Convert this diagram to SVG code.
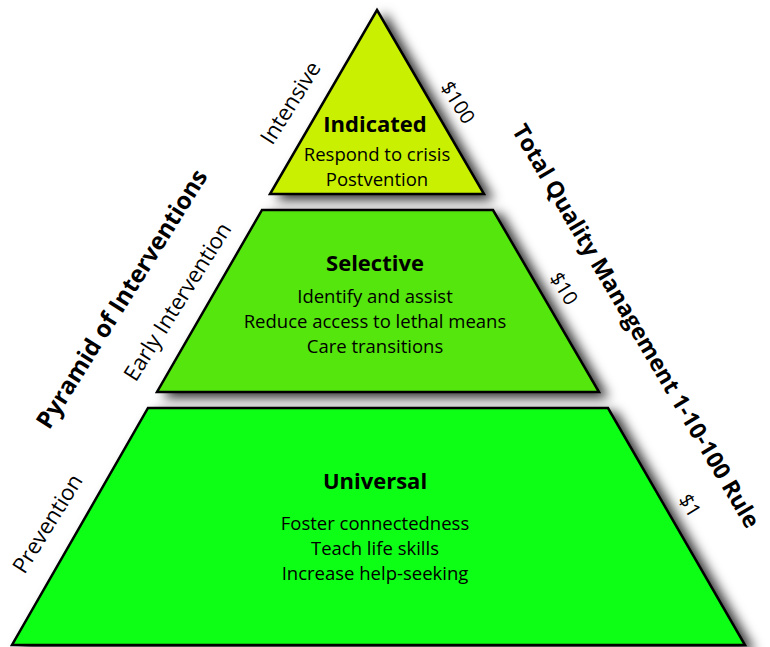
<svg xmlns="http://www.w3.org/2000/svg" width="770" height="647" viewBox="0 0 770 647">
<defs>
<filter id="shadow" x="-20%" y="-20%" width="140%" height="140%">
<feDropShadow dx="8" dy="5" stdDeviation="6" flood-color="#000" flood-opacity="0.8"/>
</filter>
<style>
.tier{stroke:#000;stroke-width:2.5;stroke-linejoin:miter}
.title{font-family:"Open Sans","Liberation Sans",sans-serif;font-weight:bold;font-size:22px;fill:#000;text-anchor:middle}
.body{font-family:"Open Sans","Liberation Sans",sans-serif;font-size:18.5px;fill:#000;text-anchor:middle}
.side{font-family:"Open Sans","Liberation Sans",sans-serif;font-size:22px;fill:#000;text-anchor:middle}
.cost{font-family:"Open Sans","Liberation Sans",sans-serif;font-size:20px;fill:#000;text-anchor:middle}
.sideb{font-family:"Open Sans","Liberation Sans",sans-serif;font-weight:bold;font-size:24px;fill:#000;text-anchor:middle}
.sideb2{font-family:"Open Sans","Liberation Sans",sans-serif;font-weight:bold;font-size:23px;fill:#000;text-anchor:middle}
</style>
</defs>
<rect width="770" height="647" fill="#fff"/>
<g id="universal">
<polygon class="tier" points="148,408 608,408 745,645 12,645" fill="#0aff14" filter="url(#shadow)"/>
<text class="title" x="375" y="489">Universal</text>
<text class="body" x="375" y="530">Foster connectedness</text>
<text class="body" x="375" y="555">Teach life skills</text>
<text class="body" x="375" y="580">Increase help-seeking</text>
</g>
<g id="selective">
<polygon class="tier" points="262,210 493,210 599,392 157,392" fill="#55e60c" filter="url(#shadow)"/>
<text class="title" x="375" y="271">Selective</text>
<text class="body" x="375" y="303">Identify and assist</text>
<text class="body" x="375" y="328">Reduce access to lethal means</text>
<text class="body" x="375" y="353">Care transitions</text>
</g>
<g id="indicated">
<polygon class="tier" points="377,10 484,194 270,194" fill="#c8f000" filter="url(#shadow)"/>
<text class="title" x="375" y="132">Indicated</text>
<text class="body" x="377" y="161">Respond to crisis</text>
<text class="body" x="377" y="186">Postvention</text>
</g>
<g id="left-labels">
<text class="side" transform="translate(291,103) rotate(-58)" y="7">Intensive</text>
<text class="side" transform="translate(178,302) rotate(-58)" y="7">Early Intervention</text>
<text class="side" transform="translate(48,524) rotate(-58)" y="7">Prevention</text>
<text class="sideb" transform="translate(122,299) rotate(-58)" y="8">Pyramid of Interventions</text>
</g>
<g id="right-labels">
<text class="cost" transform="translate(457,103) rotate(58)" y="6">$100</text>
<text class="cost" transform="translate(563,289) rotate(58)" y="6">$10</text>
<text class="cost" transform="translate(689,506) rotate(58)" y="6">$1</text>
<text class="sideb2" transform="translate(636,326) rotate(59.5)" y="8">Total Quality Management 1-10-100 Rule</text>
</g>
</svg>
